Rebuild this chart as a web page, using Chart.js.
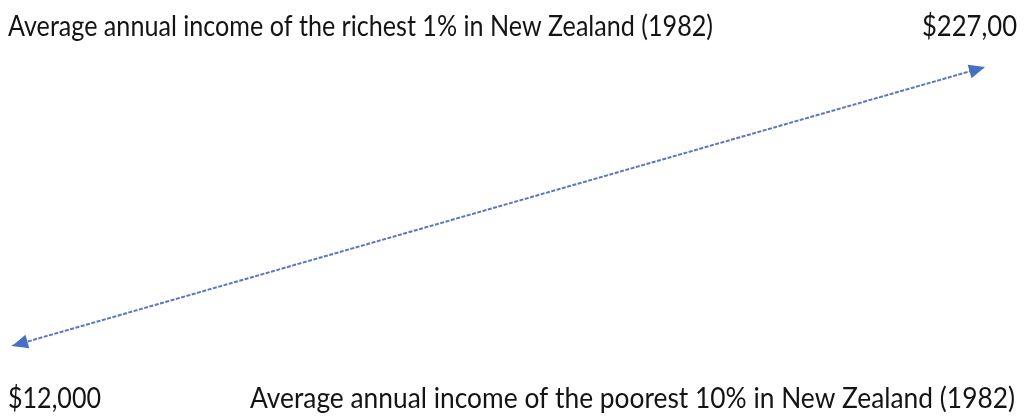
<!DOCTYPE html>
<html>
<head>
<meta charset="utf-8">
<script src="https://cdn.jsdelivr.net/npm/chart.js@4"></script>
<style>
  html, body { margin: 0; padding: 0; background: #fff; }
  #wrap { width: 1025px; height: 416px; position: relative; }
</style>
</head>
<body>
<div id="wrap"><canvas id="chart"></canvas></div>
<script>
// data
const groups = ['Average annual income of the poorest 10% in New Zealand (1982)',
                'Average annual income of the richest 1% in New Zealand (1982)'];
const incomes = [12000, 227000];
const valueLabels = ['$12,000', '$227,00'];

const lineColor = '#5a78c0';

// arrow heads at both ends of the line
const arrowHeads = {
    id: 'arrowHeads',
    afterDatasetsDraw(chart) {
        const pts = chart.getDatasetMeta(0).data;
        const c = chart.ctx;
        const a = pts[0], b = pts[pts.length - 1];
        const ang = Math.atan2(b.y - a.y, b.x - a.x);
        function head(p, dir) {
            const len = 16, half = 7;
            c.save();
            c.translate(p.x, p.y);
            c.rotate(dir);
            c.beginPath();
            c.moveTo(0, 0);
            c.lineTo(-len, -half);
            c.lineTo(-len, half);
            c.closePath();
            c.fillStyle = '#4670c2';
            c.fill();
            c.restore();
        }
        head(b, ang);
        head(a, ang + Math.PI);
    }
};

// the four text labels around the line
const cornerText = {
    id: 'cornerText',
    afterDraw(chart) {
        const c = chart.ctx;
        c.save();
        c.fillStyle = '#141414';
        c.font = '28px Lato';
        c.textBaseline = 'alphabetic';
        c.textAlign = 'left';
        c.fillText(groups[1], 8, 36, 705);
        c.fillText(valueLabels[1], 922, 36, 95);
        c.fillText(valueLabels[0], 8, 408, 93);
        c.fillText(groups[0], 250, 408, 765);
        c.restore();
    }
};

new Chart(document.getElementById('chart'), {
    type: 'line',
    data: {
        labels: groups,
        datasets: [{
            data: incomes,
            borderColor: lineColor,
            borderWidth: 2,
            borderDash: [4, 1.5],
            pointRadius: 0,
            fill: false,
            tension: 0
        }]
    },
    options: {
        responsive: true,
        maintainAspectRatio: false,
        animation: false,
        layout: { padding: { left: 12, right: 40, top: 67, bottom: 70 } },
        plugins: { legend: { display: false }, tooltip: { enabled: false } },
        scales: {
            x: { display: false, offset: false },
            y: { display: false, min: 12000, max: 227000 }
        }
    },
    plugins: [arrowHeads, cornerText]
});
</script>
</body>
</html>
